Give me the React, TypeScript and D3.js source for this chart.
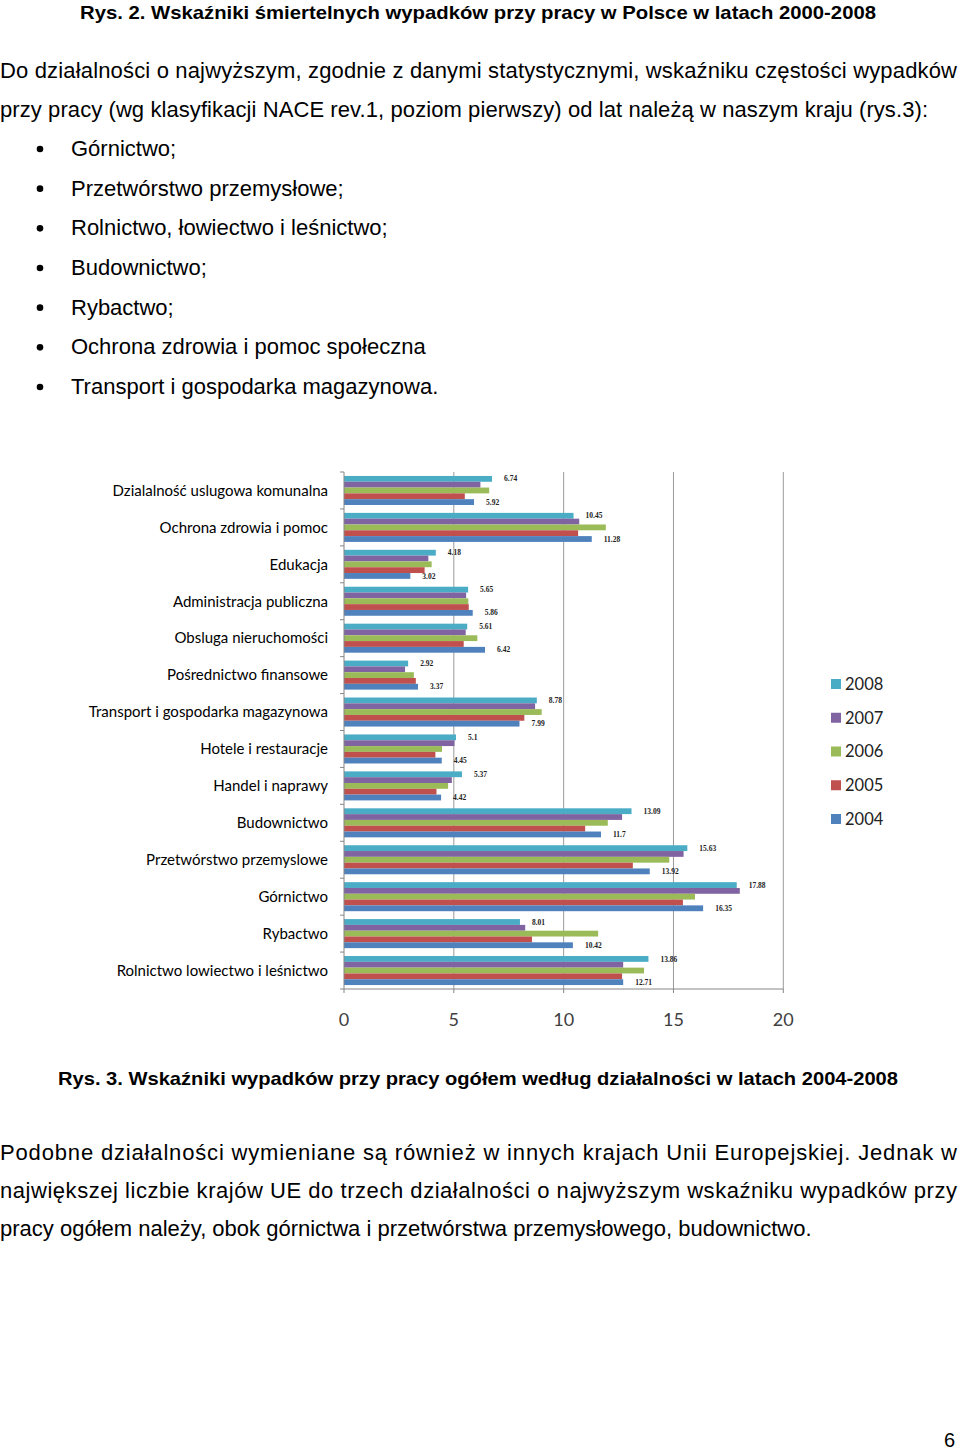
import React from 'react';
import * as d3 from 'd3';

// kategorie (od góry do dołu, jak na wykresie)
const categories = [
  'Dzialalność uslugowa komunalna',
  'Ochrona zdrowia i pomoc',
  'Edukacja',
  'Administracja publiczna',
  'Obsluga nieruchomości',
  'Pośrednictwo finansowe',
  'Transport i gospodarka magazynowa',
  'Hotele i restauracje',
  'Handel i naprawy',
  'Budownictwo',
  'Przetwórstwo przemyslowe',
  'Górnictwo',
  'Rybactwo',
  'Rolnictwo lowiectwo i leśnictwo',
];

const years = ['2008', '2007', '2006', '2005', '2004'];

const v2008 = [6.74, 10.45, 4.18, 5.65, 5.61, 2.92, 8.78, 5.1, 5.37, 13.09, 15.63, 17.88, 8.01, 13.86];
const v2007 = [6.21, 10.71, 3.84, 5.56, 5.54, 2.78, 8.7, 5.03, 4.91, 12.66, 15.46, 18.02, 8.25, 12.71];
const v2006 = [6.61, 11.92, 3.99, 5.66, 6.07, 3.18, 9.0, 4.46, 4.74, 12.01, 14.81, 15.98, 11.57, 13.66];
const v2005 = [5.5, 10.66, 3.67, 5.68, 5.45, 3.27, 8.21, 4.16, 4.21, 10.98, 13.15, 15.43, 8.56, 12.66];
const v2004 = [5.92, 11.28, 3.02, 5.86, 6.42, 3.37, 7.99, 4.45, 4.42, 11.7, 13.92, 16.35, 10.42, 12.71];

const xTicks = [0, 5, 10, 15, 20];

// etykiety wartości tylko dla 2008 i 2004
const labelledYears = ['2008', '2004'];

const colors: Record<string, string> = {
  '2008': '#4BACC6',
  '2007': '#8064A2',
  '2006': '#9BBB59',
  '2005': '#C0504D',
  '2004': '#4F81BD',
};

const series: Record<string, number[]> = {
  '2008': v2008,
  '2007': v2007,
  '2006': v2006,
  '2005': v2005,
  '2004': v2004,
};

const bullets = [
  'Górnictwo;',
  'Przetwórstwo przemysłowe;',
  'Rolnictwo, łowiectwo i leśnictwo;',
  'Budownictwo;',
  'Rybactwo;',
  'Ochrona zdrowia i pomoc społeczna',
  'Transport i gospodarka magazynowa.',
];

const sans = '"Liberation Sans", Arial, sans-serif';
const chartFont = 'Lato, "Open Sans", sans-serif';
const bodySize = 22;

export default function App() {
  const W = 960;
  const H = 1452;

  const x = d3.scaleLinear().domain([0, 20]).range([344, 783.3]);
  const y0 = d3.scaleBand<string>().domain(categories).range([472, 989]).padding(0);
  const y1 = d3
    .scaleBand<string>()
    .domain(years)
    .range([0, y0.bandwidth()])
    .paddingInner(0)
    .paddingOuter(0.68);

  const rows = categories.flatMap((c, i) =>
    years.map((yr) => ({ cat: c, year: yr, value: series[yr][i] }))
  );

  const legendY = d3.scalePoint<string>().domain(years).range([684, 819]);

  const bulletY = d3.scalePoint<number>().domain(d3.range(bullets.length)).range([156, 394]);

  return (
    <svg
      width={W}
      height={H}
      viewBox={`0 0 ${W} ${H}`}
      style={{ position: 'absolute', left: 0, top: 0, background: '#fff' }}
    >
      {/* nagłówek i tekst nad wykresem */}
      <text x={80} y={19} fontFamily={sans} fontWeight="bold" fontSize={19} textLength={796} lengthAdjust="spacingAndGlyphs" fill="#000">
        Rys. 2. Wskaźniki śmiertelnych wypadków przy pracy  w Polsce w latach 2000-2008
      </text>
      <text x={0} y={78} fontFamily={sans} fontSize={bodySize} textLength={957} lengthAdjust="spacing" fill="#000">
        Do działalności o najwyższym, zgodnie z danymi statystycznymi, wskaźniku częstości wypadków
      </text>
      <text x={0} y={117} fontFamily={sans} fontSize={bodySize} textLength={928} lengthAdjust="spacing" fill="#000">
        przy pracy (wg klasyfikacji NACE rev.1, poziom pierwszy) od lat należą w naszym kraju (rys.3):
      </text>
      {bullets.map((b, i) => (
        <g key={b}>
          <circle cx={40} cy={bulletY(i)! - 7} r={3.3} fill="#000" />
          <text x={71} y={bulletY(i)} fontFamily={sans} fontSize={bodySize} fill="#000">
            {b}
          </text>
        </g>
      ))}

      {/* siatka */}
      {xTicks.slice(1).map((t) => (
        <line key={`g${t}`} x1={x(t)} x2={x(t)} y1={472} y2={989} stroke="#9a9a9a" strokeWidth={1} />
      ))}

      {/* słupki */}
      {rows.map((d) => (
        <rect
          key={`${d.cat}-${d.year}`}
          x={x(0)}
          y={y0(d.cat)! + y1(d.year)!}
          width={x(d.value) - x(0)}
          height={y1.bandwidth()}
          fill={colors[d.year]}
        />
      ))}

      {/* etykiety wartości */}
      {rows
        .filter((d) => labelledYears.includes(d.year))
        .map((d) => (
          <text
            key={`l-${d.cat}-${d.year}`}
            x={x(d.value) + 12}
            y={y0(d.cat)! + y1(d.year)! + y1.bandwidth() / 2}
            dy="0.35em"
            fontFamily='"Liberation Serif", "Times New Roman", serif'
            fontWeight="bold"
            fontSize={7.5}
            fill="#222"
          >
            {String(d.value)}
          </text>
        ))}

      {/* oś Y */}
      <line x1={x(0)} x2={x(0)} y1={472} y2={989} stroke="#868686" />
      {[...categories.map((c) => y0(c)!), 989].map((yy, i) => (
        <line key={`yt${i}`} x1={x(0) - 4} x2={x(0)} y1={yy} y2={yy} stroke="#868686" />
      ))}
      {categories.map((c) => (
        <text
          key={`c-${c}`}
          x={328}
          y={y0(c)! + y0.bandwidth() / 2}
          dy="0.35em"
          textAnchor="end"
          fontFamily={chartFont}
          fontSize={15}
          fill="#000"
        >
          {c}
        </text>
      ))}

      {/* oś X */}
      <line x1={x(0)} x2={x(20)} y1={989} y2={989} stroke="#868686" />
      {xTicks.map((t) => (
        <g key={`xt${t}`}>
          <line x1={x(t)} x2={x(t)} y1={989} y2={993} stroke="#868686" />
          <text x={x(t)} y={1020} dy="0.35em" textAnchor="middle" fontFamily={chartFont} fontSize={18} fill="#404040">
            {t}
          </text>
        </g>
      ))}

      {/* legenda */}
      {years.map((yr) => (
        <g key={`lg${yr}`} transform={`translate(831,${legendY(yr)})`}>
          <rect x={0} y={-5} width={10} height={10} fill={colors[yr]} />
          <text x={14} y={0} dy="0.35em" fontFamily={chartFont} fontSize={16.5} fill="#222">
            {yr}
          </text>
        </g>
      ))}

      {/* podpis i tekst pod wykresem */}
      <text x={58} y={1085} fontFamily={sans} fontWeight="bold" fontSize={19} textLength={840} lengthAdjust="spacingAndGlyphs" fill="#000">
        Rys. 3. Wskaźniki wypadków przy pracy ogółem według działalności w latach 2004-2008
      </text>
      <text x={0} y={1160} fontFamily={sans} fontSize={bodySize} textLength={957} lengthAdjust="spacing" fill="#000">
        Podobne działalności wymieniane są również w innych krajach Unii Europejskiej. Jednak w
      </text>
      <text x={0} y={1198} fontFamily={sans} fontSize={bodySize} textLength={957} lengthAdjust="spacing" fill="#000">
        największej liczbie krajów UE do trzech działalności o najwyższym wskaźniku wypadków przy
      </text>
      <text x={0} y={1236} fontFamily={sans} fontSize={bodySize} fill="#000">
        pracy ogółem należy, obok górnictwa i przetwórstwa przemysłowego, budownictwo.
      </text>
      <text x={955} y={1447} textAnchor="end" fontFamily={sans} fontSize={20} fill="#000">
        6
      </text>
    </svg>
  );
}
